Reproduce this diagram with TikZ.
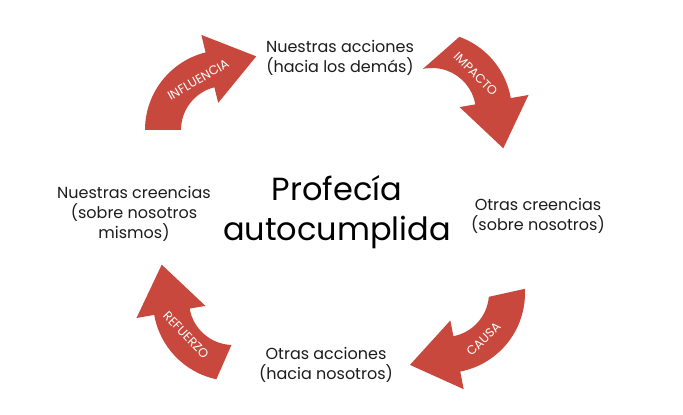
\documentclass[tikz,border=0pt]{standalone}
\usepackage{fontspec}
\setmainfont{Poppins}
\usepackage{tikz}
\definecolor{rojoflecha}{RGB}{201,72,62}
\definecolor{textogris}{RGB}{28,28,28}

\newcommand{\flechacurva}[8]{%
  \begin{scope}[shift={#1}]
    \fill[rojoflecha] (#2:80) arc[start angle=#2,end angle=#4,radius=80] -- (#4:98)
      -- ({#4-37}:80) -- (#4:28) -- (#4:44) arc[start angle=#4,end angle=#3,radius=44] -- cycle;
    \node[rotulo,rotate=#6] (#7) at (#5) {#8};
  \end{scope}}

\begin{document}
\begin{tikzpicture}[x=1pt,y=1pt,
  etiqueta/.style={text=textogris,align=center,inner sep=0pt,font=\fontsize{16}{20}\selectfont},
  rotulo/.style={text=white,inner sep=0pt,font=\fontsize{12.5}{12.5}\selectfont}]
	\fill[white] (0,0) rectangle (683,415);
	\node[etiqueta] (acciones) at (340,357) {Nuestras acciones\\(hacia los demás)};
	\node[etiqueta] (creenciasotros) at (538,199) {Otras creencias\\(sobre nosotros)};
	\node[etiqueta] (accionesotros) at (326,50) {Otras acciones\\(hacia nosotros)};
	\node[etiqueta] (creencias) at (134,201) {Nuestras creencias\\(sobre nosotros\\mismos)};
	\node[text=black,align=center,inner sep=0pt,font=\fontsize{32}{40}\selectfont] (profecia) at (337,203) {Profecía\\autocumplida};
	\flechacurva{(225,285)}{180}{180}{104}{118:57}{30}{influencia}{INFLUENCIA}
	\flechacurva{(432,303)}{70}{102}{10}{41:58}{-45}{impacto}{IMPACTO}
	\flechacurva{(445,122)}{363}{355}{281}{310:60}{45}{causa}{CAUSA}
	\flechacurva{(233,114)}{258}{268}{190}{216:58}{-46}{refuerzo}{REFUERZO}
\end{tikzpicture}
\end{document}
